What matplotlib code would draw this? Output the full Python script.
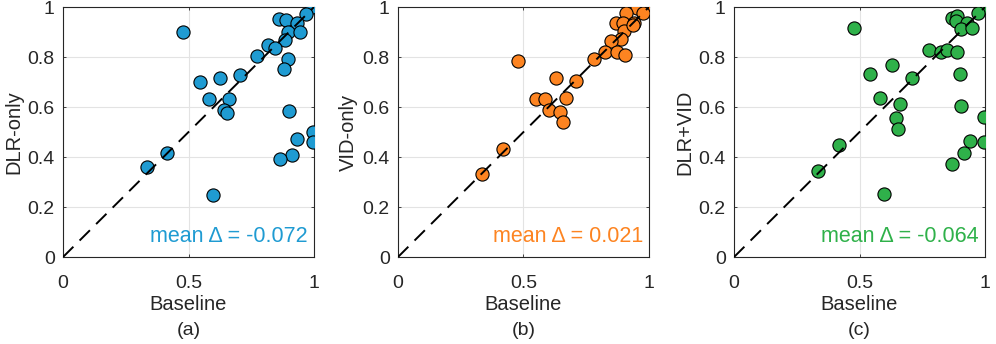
import matplotlib
matplotlib.use("Agg")
import matplotlib.pyplot as plt
import numpy as np

plt.rcParams['font.family'] = ['Liberation Sans', 'DejaVu Sans']

# panel (a) DLR-only vs baseline
a_base = [0.993, 0.967, 0.86, 0.887, 0.931, 0.477, 0.897, 0.943, 0.883, 0.816,
          0.844, 0.773, 0.896, 0.88, 0.704, 0.547, 0.627, 0.581, 0.663, 0.64,
          0.653, 0.899, 0.996, 0.996, 0.933, 0.911, 0.864, 0.416, 0.333, 0.596]
a_vals = [1.0, 0.971, 0.951, 0.948, 0.935, 0.9, 0.9, 0.9, 0.868, 0.847,
          0.837, 0.804, 0.793, 0.751, 0.727, 0.7, 0.715, 0.631, 0.633, 0.588,
          0.575, 0.584, 0.501, 0.46, 0.471, 0.407, 0.391, 0.415, 0.361, 0.247]

# panel (b) VID-only vs baseline
b_base = [1.0, 0.953, 0.907, 0.977, 0.87, 0.896, 0.941, 0.9, 0.887, 0.847,
          0.823, 0.872, 0.903, 0.78, 0.48, 0.628, 0.71, 0.55, 0.587, 0.668,
          0.601, 0.645, 0.657, 0.419, 0.336, 0.935]
b_vals = [1.0, 0.997, 0.975, 0.975, 0.935, 0.937, 0.937, 0.904, 0.873, 0.864,
          0.82, 0.82, 0.807, 0.791, 0.784, 0.715, 0.704, 0.631, 0.633, 0.635,
          0.587, 0.581, 0.541, 0.431, 0.331, 0.927]

# panel (c) DLR+VID vs baseline
c_base = [0.997, 0.973, 0.87, 0.89, 0.884, 0.93, 0.903, 0.949, 0.476, 0.777,
          0.823, 0.847, 0.887, 0.628, 0.543, 0.901, 0.707, 0.582, 0.663, 0.906,
          0.997, 0.644, 0.653, 0.94, 0.997, 0.915, 0.87, 0.419, 0.333, 0.598]
c_vals = [1.0, 0.977, 0.957, 0.964, 0.943, 0.935, 0.913, 0.917, 0.916, 0.828,
          0.821, 0.827, 0.82, 0.769, 0.733, 0.731, 0.715, 0.635, 0.611, 0.604,
          0.56, 0.557, 0.511, 0.464, 0.46, 0.415, 0.373, 0.447, 0.345, 0.253]

panels = [
    (a_base, a_vals, "DLR-only", "mean \u0394 = -0.072", "(a)", "#1f9bd2"),
    (b_base, b_vals, "VID-only", "mean \u0394 = 0.021", "(b)", "#fd8421"),
    (c_base, c_vals, "DLR+VID", "mean \u0394 = -0.064", "(c)", "#2fb14a"),
]
lefts = [0.0633, 0.3996, 0.737]

fig = plt.figure(figsize=(9.96, 3.44), dpi=100)
txtc = "#262626"
for left, (xb, yv, ylab, mtxt, tag, col) in zip(lefts, panels):
    ax = fig.add_axes([left, 0.2529, 0.252, 0.7267])
    ax.scatter(xb, yv, s=90, c=col, edgecolors="black", linewidths=0.8, zorder=3)
    ax.plot([0, 1], [0, 1], color="black", ls=(0, (7.5, 4.5)), lw=1.4, zorder=4)
    ax.set_xlim(0, 1)
    ax.set_ylim(0, 1)
    ax.set_xticks([0, 0.5, 1])
    ax.set_xticklabels(["0", "0.5", "1"])
    ax.set_yticks([0, 0.2, 0.4, 0.6, 0.8, 1])
    ax.set_yticklabels(["0", "0.2", "0.4", "0.6", "0.8", "1"])
    ax.grid(True, color="#e3e3e3", lw=0.8, zorder=0)
    ax.set_axisbelow(True)
    ax.tick_params(direction="in", length=2.5, width=0.6, labelsize=14,
                   colors=txtc, top=True, right=True)
    ax.tick_params(axis="x", pad=13)
    ax.tick_params(axis="y", pad=6)
    for sp in ax.spines.values():
        sp.set_color("#262626")
        sp.set_linewidth(0.8)
    ax.set_ylabel(ylab, fontsize=14.5, color=txtc, labelpad=3)
    ax.set_xlabel("Baseline", fontsize=14.5, color=txtc, labelpad=2)
    ax.text(0.976, 0.04, mtxt, transform=ax.transAxes, ha="right", va="bottom",
            fontsize=15.5, color=col)
    ax.text(0.5, -0.26, tag, transform=ax.transAxes, ha="center", va="top",
            fontsize=14, color=txtc)

fig.savefig("out.png", dpi=100)
